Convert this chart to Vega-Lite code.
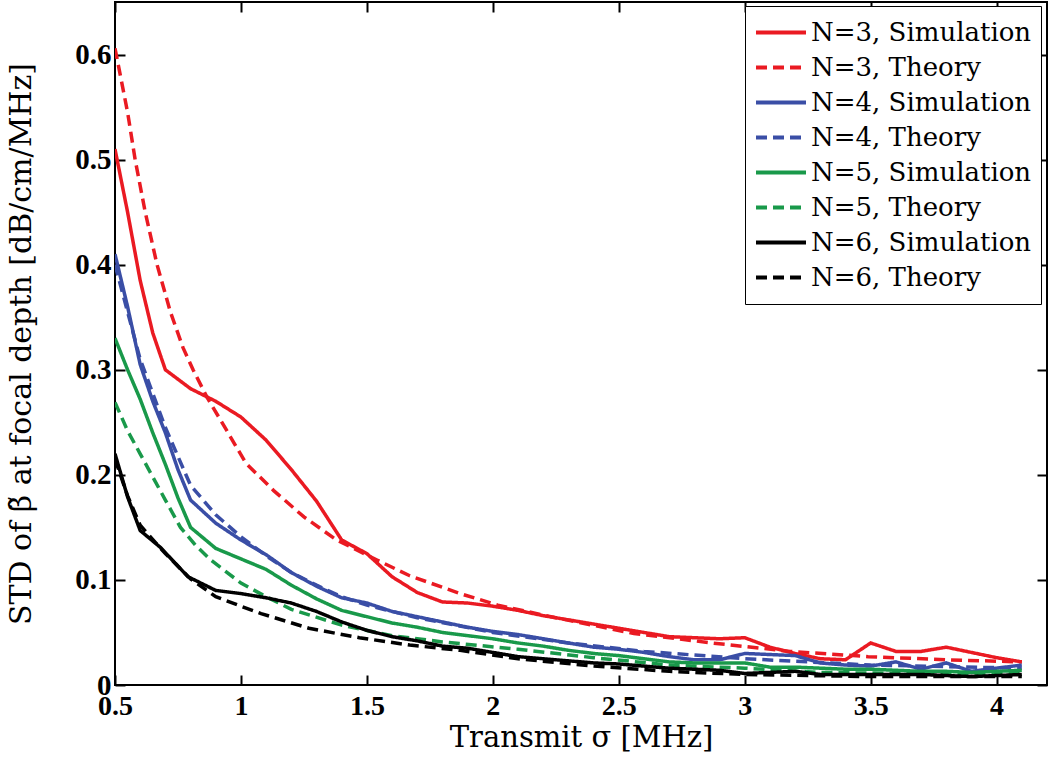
{
  "$schema": "https://vega.github.io/schema/vega-lite/v6.json",
  "width": 932,
  "height": 683,
  "autosize": {"type": "none"},
  "padding": {"left": 115, "top": 2, "right": 3, "bottom": 82},
  "background": "white",
  "config": {
    "view": {"stroke": "black", "strokeWidth": 2},
    "axis": {"grid": false, "domain": false, "tickColor": "black", "tickWidth": 2, "labelColor": "black", "titleColor": "black"}
  },
  "data": {"values": [
    {"s":"N=3, Simulation","x":0.5,"y":0.51},{"s":"N=3, Simulation","x":0.55,"y":0.45},{"s":"N=3, Simulation","x":0.6,"y":0.385},{"s":"N=3, Simulation","x":0.65,"y":0.335},{"s":"N=3, Simulation","x":0.7,"y":0.3},{"s":"N=3, Simulation","x":0.8,"y":0.282},{"s":"N=3, Simulation","x":0.9,"y":0.27},{"s":"N=3, Simulation","x":1.0,"y":0.255},{"s":"N=3, Simulation","x":1.1,"y":0.233},{"s":"N=3, Simulation","x":1.2,"y":0.205},{"s":"N=3, Simulation","x":1.3,"y":0.175},{"s":"N=3, Simulation","x":1.4,"y":0.138},{"s":"N=3, Simulation","x":1.5,"y":0.125},{"s":"N=3, Simulation","x":1.6,"y":0.103},{"s":"N=3, Simulation","x":1.7,"y":0.088},{"s":"N=3, Simulation","x":1.8,"y":0.079},{"s":"N=3, Simulation","x":1.9,"y":0.078},{"s":"N=3, Simulation","x":2.0,"y":0.075},{"s":"N=3, Simulation","x":2.1,"y":0.071},{"s":"N=3, Simulation","x":2.2,"y":0.066},{"s":"N=3, Simulation","x":2.3,"y":0.062},{"s":"N=3, Simulation","x":2.4,"y":0.058},{"s":"N=3, Simulation","x":2.5,"y":0.054},{"s":"N=3, Simulation","x":2.6,"y":0.05},{"s":"N=3, Simulation","x":2.7,"y":0.046},{"s":"N=3, Simulation","x":2.8,"y":0.045},{"s":"N=3, Simulation","x":2.9,"y":0.044},{"s":"N=3, Simulation","x":3.0,"y":0.045},{"s":"N=3, Simulation","x":3.1,"y":0.036},{"s":"N=3, Simulation","x":3.2,"y":0.03},{"s":"N=3, Simulation","x":3.3,"y":0.025},{"s":"N=3, Simulation","x":3.4,"y":0.024},{"s":"N=3, Simulation","x":3.5,"y":0.04},{"s":"N=3, Simulation","x":3.6,"y":0.032},{"s":"N=3, Simulation","x":3.7,"y":0.032},{"s":"N=3, Simulation","x":3.8,"y":0.036},{"s":"N=3, Simulation","x":3.9,"y":0.031},{"s":"N=3, Simulation","x":4.0,"y":0.026},{"s":"N=3, Simulation","x":4.1,"y":0.022},
    {"s":"N=3, Theory","x":0.5,"y":0.606},{"s":"N=3, Theory","x":0.55,"y":0.545},{"s":"N=3, Theory","x":0.58,"y":0.5},{"s":"N=3, Theory","x":0.62,"y":0.45},{"s":"N=3, Theory","x":0.667,"y":0.4},{"s":"N=3, Theory","x":0.72,"y":0.355},{"s":"N=3, Theory","x":0.77,"y":0.321},{"s":"N=3, Theory","x":0.81,"y":0.3},{"s":"N=3, Theory","x":0.865,"y":0.274},{"s":"N=3, Theory","x":0.944,"y":0.242},{"s":"N=3, Theory","x":1.02,"y":0.211},{"s":"N=3, Theory","x":1.13,"y":0.185},{"s":"N=3, Theory","x":1.25,"y":0.16},{"s":"N=3, Theory","x":1.38,"y":0.138},{"s":"N=3, Theory","x":1.54,"y":0.119},{"s":"N=3, Theory","x":1.67,"y":0.104},{"s":"N=3, Theory","x":1.87,"y":0.087},{"s":"N=3, Theory","x":2.02,"y":0.076},{"s":"N=3, Theory","x":2.25,"y":0.064},{"s":"N=3, Theory","x":2.56,"y":0.049},{"s":"N=3, Theory","x":2.87,"y":0.04},{"s":"N=3, Theory","x":3.18,"y":0.032},{"s":"N=3, Theory","x":3.49,"y":0.027},{"s":"N=3, Theory","x":3.8,"y":0.024},{"s":"N=3, Theory","x":4.1,"y":0.022},
    {"s":"N=4, Simulation","x":0.5,"y":0.41},{"s":"N=4, Simulation","x":0.55,"y":0.36},{"s":"N=4, Simulation","x":0.6,"y":0.305},{"s":"N=4, Simulation","x":0.65,"y":0.27},{"s":"N=4, Simulation","x":0.7,"y":0.24},{"s":"N=4, Simulation","x":0.75,"y":0.205},{"s":"N=4, Simulation","x":0.8,"y":0.176},{"s":"N=4, Simulation","x":0.9,"y":0.154},{"s":"N=4, Simulation","x":1.0,"y":0.138},{"s":"N=4, Simulation","x":1.1,"y":0.124},{"s":"N=4, Simulation","x":1.2,"y":0.107},{"s":"N=4, Simulation","x":1.3,"y":0.094},{"s":"N=4, Simulation","x":1.4,"y":0.083},{"s":"N=4, Simulation","x":1.5,"y":0.078},{"s":"N=4, Simulation","x":1.6,"y":0.07},{"s":"N=4, Simulation","x":1.7,"y":0.065},{"s":"N=4, Simulation","x":1.8,"y":0.06},{"s":"N=4, Simulation","x":1.9,"y":0.055},{"s":"N=4, Simulation","x":2.0,"y":0.051},{"s":"N=4, Simulation","x":2.1,"y":0.048},{"s":"N=4, Simulation","x":2.2,"y":0.044},{"s":"N=4, Simulation","x":2.3,"y":0.04},{"s":"N=4, Simulation","x":2.4,"y":0.036},{"s":"N=4, Simulation","x":2.5,"y":0.034},{"s":"N=4, Simulation","x":2.6,"y":0.031},{"s":"N=4, Simulation","x":2.7,"y":0.027},{"s":"N=4, Simulation","x":2.8,"y":0.024},{"s":"N=4, Simulation","x":2.9,"y":0.024},{"s":"N=4, Simulation","x":3.0,"y":0.03},{"s":"N=4, Simulation","x":3.1,"y":0.029},{"s":"N=4, Simulation","x":3.2,"y":0.028},{"s":"N=4, Simulation","x":3.3,"y":0.021},{"s":"N=4, Simulation","x":3.4,"y":0.019},{"s":"N=4, Simulation","x":3.5,"y":0.018},{"s":"N=4, Simulation","x":3.6,"y":0.022},{"s":"N=4, Simulation","x":3.7,"y":0.015},{"s":"N=4, Simulation","x":3.8,"y":0.021},{"s":"N=4, Simulation","x":3.9,"y":0.013},{"s":"N=4, Simulation","x":4.0,"y":0.016},{"s":"N=4, Simulation","x":4.1,"y":0.019},
    {"s":"N=4, Theory","x":0.5,"y":0.4},{"s":"N=4, Theory","x":0.55,"y":0.355},{"s":"N=4, Theory","x":0.6,"y":0.31},{"s":"N=4, Theory","x":0.7,"y":0.245},{"s":"N=4, Theory","x":0.8,"y":0.19},{"s":"N=4, Theory","x":0.9,"y":0.162},{"s":"N=4, Theory","x":1.0,"y":0.141},{"s":"N=4, Theory","x":1.1,"y":0.123},{"s":"N=4, Theory","x":1.2,"y":0.107},{"s":"N=4, Theory","x":1.3,"y":0.095},{"s":"N=4, Theory","x":1.4,"y":0.084},{"s":"N=4, Theory","x":1.5,"y":0.076},{"s":"N=4, Theory","x":1.7,"y":0.064},{"s":"N=4, Theory","x":2.0,"y":0.05},{"s":"N=4, Theory","x":2.3,"y":0.04},{"s":"N=4, Theory","x":2.6,"y":0.032},{"s":"N=4, Theory","x":3.0,"y":0.025},{"s":"N=4, Theory","x":3.5,"y":0.019},{"s":"N=4, Theory","x":4.1,"y":0.016},
    {"s":"N=5, Simulation","x":0.5,"y":0.33},{"s":"N=5, Simulation","x":0.55,"y":0.3},{"s":"N=5, Simulation","x":0.6,"y":0.272},{"s":"N=5, Simulation","x":0.65,"y":0.24},{"s":"N=5, Simulation","x":0.7,"y":0.21},{"s":"N=5, Simulation","x":0.75,"y":0.178},{"s":"N=5, Simulation","x":0.8,"y":0.15},{"s":"N=5, Simulation","x":0.9,"y":0.13},{"s":"N=5, Simulation","x":1.0,"y":0.12},{"s":"N=5, Simulation","x":1.1,"y":0.11},{"s":"N=5, Simulation","x":1.2,"y":0.095},{"s":"N=5, Simulation","x":1.3,"y":0.082},{"s":"N=5, Simulation","x":1.4,"y":0.071},{"s":"N=5, Simulation","x":1.5,"y":0.065},{"s":"N=5, Simulation","x":1.6,"y":0.059},{"s":"N=5, Simulation","x":1.7,"y":0.055},{"s":"N=5, Simulation","x":1.8,"y":0.05},{"s":"N=5, Simulation","x":1.9,"y":0.047},{"s":"N=5, Simulation","x":2.0,"y":0.044},{"s":"N=5, Simulation","x":2.1,"y":0.04},{"s":"N=5, Simulation","x":2.2,"y":0.037},{"s":"N=5, Simulation","x":2.3,"y":0.033},{"s":"N=5, Simulation","x":2.4,"y":0.03},{"s":"N=5, Simulation","x":2.5,"y":0.028},{"s":"N=5, Simulation","x":2.6,"y":0.025},{"s":"N=5, Simulation","x":2.7,"y":0.022},{"s":"N=5, Simulation","x":2.8,"y":0.021},{"s":"N=5, Simulation","x":2.9,"y":0.021},{"s":"N=5, Simulation","x":3.0,"y":0.021},{"s":"N=5, Simulation","x":3.1,"y":0.017},{"s":"N=5, Simulation","x":3.2,"y":0.017},{"s":"N=5, Simulation","x":3.3,"y":0.016},{"s":"N=5, Simulation","x":3.4,"y":0.015},{"s":"N=5, Simulation","x":3.5,"y":0.015},{"s":"N=5, Simulation","x":3.6,"y":0.014},{"s":"N=5, Simulation","x":3.7,"y":0.013},{"s":"N=5, Simulation","x":3.8,"y":0.013},{"s":"N=5, Simulation","x":3.9,"y":0.012},{"s":"N=5, Simulation","x":4.0,"y":0.013},{"s":"N=5, Simulation","x":4.1,"y":0.014},
    {"s":"N=5, Theory","x":0.5,"y":0.269},{"s":"N=5, Theory","x":0.55,"y":0.242},{"s":"N=5, Theory","x":0.6,"y":0.22},{"s":"N=5, Theory","x":0.65,"y":0.198},{"s":"N=5, Theory","x":0.7,"y":0.176},{"s":"N=5, Theory","x":0.76,"y":0.15},{"s":"N=5, Theory","x":0.82,"y":0.133},{"s":"N=5, Theory","x":0.88,"y":0.119},{"s":"N=5, Theory","x":1.0,"y":0.097},{"s":"N=5, Theory","x":1.1,"y":0.084},{"s":"N=5, Theory","x":1.2,"y":0.072},{"s":"N=5, Theory","x":1.4,"y":0.057},{"s":"N=5, Theory","x":1.6,"y":0.047},{"s":"N=5, Theory","x":1.8,"y":0.041},{"s":"N=5, Theory","x":2.1,"y":0.034},{"s":"N=5, Theory","x":2.4,"y":0.026},{"s":"N=5, Theory","x":2.7,"y":0.019},{"s":"N=5, Theory","x":3.0,"y":0.016},{"s":"N=5, Theory","x":3.3,"y":0.012},{"s":"N=5, Theory","x":3.6,"y":0.011},{"s":"N=5, Theory","x":4.1,"y":0.011},
    {"s":"N=6, Simulation","x":0.5,"y":0.22},{"s":"N=6, Simulation","x":0.55,"y":0.179},{"s":"N=6, Simulation","x":0.6,"y":0.147},{"s":"N=6, Simulation","x":0.68,"y":0.131},{"s":"N=6, Simulation","x":0.79,"y":0.103},{"s":"N=6, Simulation","x":0.9,"y":0.09},{"s":"N=6, Simulation","x":1.0,"y":0.087},{"s":"N=6, Simulation","x":1.1,"y":0.083},{"s":"N=6, Simulation","x":1.2,"y":0.078},{"s":"N=6, Simulation","x":1.3,"y":0.07},{"s":"N=6, Simulation","x":1.4,"y":0.06},{"s":"N=6, Simulation","x":1.5,"y":0.052},{"s":"N=6, Simulation","x":1.6,"y":0.046},{"s":"N=6, Simulation","x":1.7,"y":0.042},{"s":"N=6, Simulation","x":1.8,"y":0.037},{"s":"N=6, Simulation","x":1.9,"y":0.035},{"s":"N=6, Simulation","x":2.0,"y":0.031},{"s":"N=6, Simulation","x":2.1,"y":0.027},{"s":"N=6, Simulation","x":2.2,"y":0.025},{"s":"N=6, Simulation","x":2.3,"y":0.023},{"s":"N=6, Simulation","x":2.4,"y":0.021},{"s":"N=6, Simulation","x":2.5,"y":0.02},{"s":"N=6, Simulation","x":2.6,"y":0.018},{"s":"N=6, Simulation","x":2.7,"y":0.016},{"s":"N=6, Simulation","x":2.8,"y":0.015},{"s":"N=6, Simulation","x":2.9,"y":0.014},{"s":"N=6, Simulation","x":3.0,"y":0.011},{"s":"N=6, Simulation","x":3.1,"y":0.012},{"s":"N=6, Simulation","x":3.2,"y":0.013},{"s":"N=6, Simulation","x":3.3,"y":0.01},{"s":"N=6, Simulation","x":3.4,"y":0.01},{"s":"N=6, Simulation","x":3.5,"y":0.01},{"s":"N=6, Simulation","x":3.6,"y":0.01},{"s":"N=6, Simulation","x":3.7,"y":0.01},{"s":"N=6, Simulation","x":3.8,"y":0.009},{"s":"N=6, Simulation","x":3.9,"y":0.008},{"s":"N=6, Simulation","x":4.0,"y":0.009},{"s":"N=6, Simulation","x":4.1,"y":0.01},
    {"s":"N=6, Theory","x":0.5,"y":0.215},{"s":"N=6, Theory","x":0.55,"y":0.18},{"s":"N=6, Theory","x":0.6,"y":0.152},{"s":"N=6, Theory","x":0.7,"y":0.125},{"s":"N=6, Theory","x":0.8,"y":0.101},{"s":"N=6, Theory","x":0.9,"y":0.084},{"s":"N=6, Theory","x":1.0,"y":0.075},{"s":"N=6, Theory","x":1.08,"y":0.068},{"s":"N=6, Theory","x":1.27,"y":0.054},{"s":"N=6, Theory","x":1.47,"y":0.045},{"s":"N=6, Theory","x":1.67,"y":0.038},{"s":"N=6, Theory","x":1.87,"y":0.033},{"s":"N=6, Theory","x":2.1,"y":0.025},{"s":"N=6, Theory","x":2.4,"y":0.018},{"s":"N=6, Theory","x":2.7,"y":0.013},{"s":"N=6, Theory","x":3.0,"y":0.01},{"s":"N=6, Theory","x":3.5,"y":0.008},{"s":"N=6, Theory","x":4.1,"y":0.008}
  ]},
  "layer": [
    {
      "mark": {"type": "line", "strokeWidth": 3.5, "clip": true},
      "encoding": {
        "x": {"field": "x", "type": "quantitative",
          "scale": {"domain": [0.5, 4.2], "nice": false, "zero": false},
          "axis": {"values": [0.5, 1, 1.5, 2, 2.5, 3, 3.5, 4], "format": ".1~f", "tickSize": -10, "labelPadding": 17, "labelFlush": false, "labelOverlap": false,
            "labelFont": "Liberation Serif", "labelFontWeight": "bold", "labelFontSize": 28,
            "title": "Transmit σ [MHz]", "titleFont": "DejaVu Serif", "titleFontWeight": "normal", "titleFontSize": 29, "titlePadding": 3}},
        "y": {"field": "y", "type": "quantitative",
          "scale": {"domain": [0, 0.65], "nice": false},
          "axis": {"values": [0, 0.1, 0.2, 0.3, 0.4, 0.5, 0.6], "format": ".1~f", "tickSize": -10, "labelPadding": 14, "labelFlush": false, "labelOverlap": false,
            "labelFont": "Liberation Serif", "labelFontWeight": "bold", "labelFontSize": 29,
            "title": "STD of β̃ at focal depth [dB/cm/MHz]", "titleFont": "DejaVu Serif", "titleFontWeight": "normal", "titleFontSize": 30, "titlePadding": 38}},
        "color": {"field": "s", "type": "nominal",
          "scale": {"domain": ["N=3, Simulation", "N=3, Theory", "N=4, Simulation", "N=4, Theory", "N=5, Simulation", "N=5, Theory", "N=6, Simulation", "N=6, Theory"],
            "range": ["#ea1a22", "#ea1a22", "#3a4ea6", "#3a4ea6", "#19994a", "#19994a", "#000000", "#000000"]},
          "legend": {"title": null, "orient": "none", "legendX": 630, "legendY": 4,
            "symbolType": "stroke", "symbolSize": 2500, "symbolStrokeWidth": 4, "clipHeight": 35,
            "labelFont": "DejaVu Serif", "labelFontSize": 26, "labelColor": "black", "labelOffset": 3, "labelLimit": 400,
            "rowPadding": 0, "padding": 9, "strokeColor": "black", "fillColor": "white", "cornerRadius": 0}},
        "strokeDash": {"field": "s", "type": "nominal",
          "scale": {"domain": ["N=3, Simulation", "N=3, Theory", "N=4, Simulation", "N=4, Theory", "N=5, Simulation", "N=5, Theory", "N=6, Simulation", "N=6, Theory"],
            "range": [[1, 0], [11, 6], [1, 0], [11, 6], [1, 0], [11, 6], [1, 0], [11, 6]]},
          "legend": {"title": null}}
      }
    },
    {
      "mark": {"type": "point", "opacity": 0},
      "data": {"values": [{"x": 0.5, "y": 0}]},
      "encoding": {
        "x": {"field": "x", "type": "quantitative", "axis": {"orient": "top", "values": [0.5, 1, 1.5, 2, 2.5, 3, 3.5, 4], "labels": false, "title": null, "tickSize": -10}},
        "y": {"field": "y", "type": "quantitative", "axis": {"orient": "right", "values": [0, 0.1, 0.2, 0.3, 0.4, 0.5, 0.6], "labels": false, "title": null, "tickSize": -10}}
      }
    }
  ],
  "resolve": {"axis": {"x": "independent", "y": "independent"}}
}
